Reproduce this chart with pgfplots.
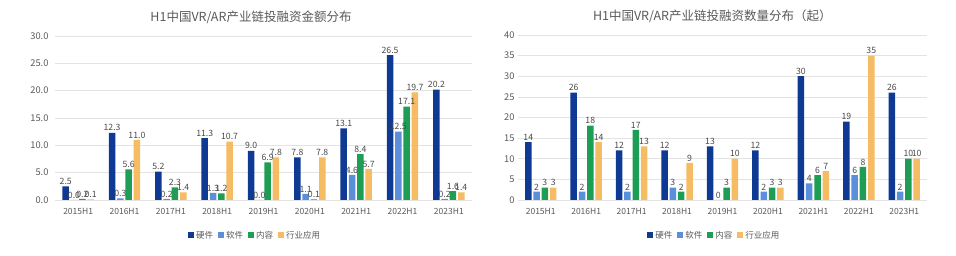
\documentclass[border=0pt]{standalone}
\usepackage{fontspec}
\setmainfont{Noto Sans CJK SC}
\usepackage{pgfplots}
\usepackage{pgfplotstable}
\pgfplotsset{compat=1.18}
\definecolor{hw}{HTML}{0F3A94}
\definecolor{sw}{HTML}{5B8FDC}
\definecolor{ct}{HTML}{1E9E55}
\definecolor{ap}{HTML}{F5BC63}
\definecolor{txt}{HTML}{595959}
\definecolor{lbl}{HTML}{4A4A4A}
\definecolor{grd}{HTML}{E3E3E3}

\pgfplotstableread{
x hw sw ct ap
0 2.5 0.0 0.2 0.1
1 12.3 0.3 5.6 11.0
2 5.2 0.2 2.3 1.4
3 11.3 1.3 1.2 10.7
4 9.0 0.0 6.9 7.8
5 7.8 1.1 0.1 7.8
6 13.1 4.6 8.4 5.7
7 26.5 12.5 17.1 19.7
8 20.2 0.2 1.6 1.4
}\amttab
\pgfplotstableread{
x hw sw ct ap
0 14 2 3 3
1 26 2 18 14
2 12 2 17 13
3 12 3 2 9
4 13 0 3 10
5 12 2 3 3
6 30 4 6 7
7 19 6 8 35
8 26 2 10 10
}\numtab

\pgfplotsset{
  base/.style={
    scale only axis, ybar=1.8pt, bar width=6.5pt,
    xmin=-0.5, xmax=8.5, ymin=0,
    xtick={0,...,8},
    xticklabels={2015H1,2016H1,2017H1,2018H1,2019H1,2020H1,2021H1,2022H1,2023H1},
    axis line style={draw=none},
    major tick style={draw=none},
    ymajorgrids, grid style={grd, line width=0.6pt},
    tick label style={font=\fontsize{8.5}{9}\selectfont, text=txt},
    yticklabel style={font=\fontsize{9.3}{10}\selectfont},
    /pgf/number format/assume math mode=true,
    nodes near coords,
    nodes near coords style={font=\fontsize{8.7}{9}\selectfont, text=lbl, inner sep=1.5pt},
    legend columns=4,
    legend style={draw=none, fill=none, font=\fontsize{8.5}{9}\selectfont, text=txt,
      at={(0.48,-0.165)}, anchor=north,
      /tikz/every even column/.append style={column sep=3pt}},
    legend image code/.code={\fill[##1] (0pt,-2.5pt) rectangle (6pt,3.5pt);},
    every axis plot/.append style={draw=none},
    title style={font=\fontsize{12.5}{14}\selectfont, text=txt, anchor=center},
  }
}

\begin{document}
\begin{tikzpicture}
\useasboundingbox (0,0) rectangle (956pt,256pt);
\begin{axis}[base, at={(55pt,56pt)}, anchor=south west,
  width=417pt, height=164pt, ymax=30, ytick={0,5,...,30},
  yticklabel style={/pgf/number format/fixed, /pgf/number format/fixed zerofill, /pgf/number format/precision=1, xshift=-3pt},
  nodes near coords={\pgfmathprintnumber[fixed,fixed zerofill,precision=1]{\pgfplotspointmeta}},
  title={H1中国VR/AR产业链投融资金额分布},
  title style={at={(0.47,1.08)}}]
\addplot[fill=hw] table[x=x,y=hw]{\amttab};
\addplot[fill=sw] table[x=x,y=sw]{\amttab};
\addplot[fill=ct] table[x=x,y=ct]{\amttab};
\addplot[fill=ap] table[x=x,y=ap]{\amttab};
\legend{硬件,软件,内容,行业应用}
\end{axis}
\begin{axis}[base, at={(518pt,56pt)}, anchor=south west,
  width=409pt, height=165pt, ymax=40, ytick={0,5,...,40},
  title={H1中国VR/AR产业链投融资数量分布（起）},
  title style={at={(0.475,1.08)}}]
\addplot[fill=hw] table[x=x,y=hw]{\numtab};
\addplot[fill=sw] table[x=x,y=sw]{\numtab};
\addplot[fill=ct] table[x=x,y=ct]{\numtab};
\addplot[fill=ap] table[x=x,y=ap]{\numtab};
\legend{硬件,软件,内容,行业应用}
\end{axis}
\end{tikzpicture}
\end{document}
